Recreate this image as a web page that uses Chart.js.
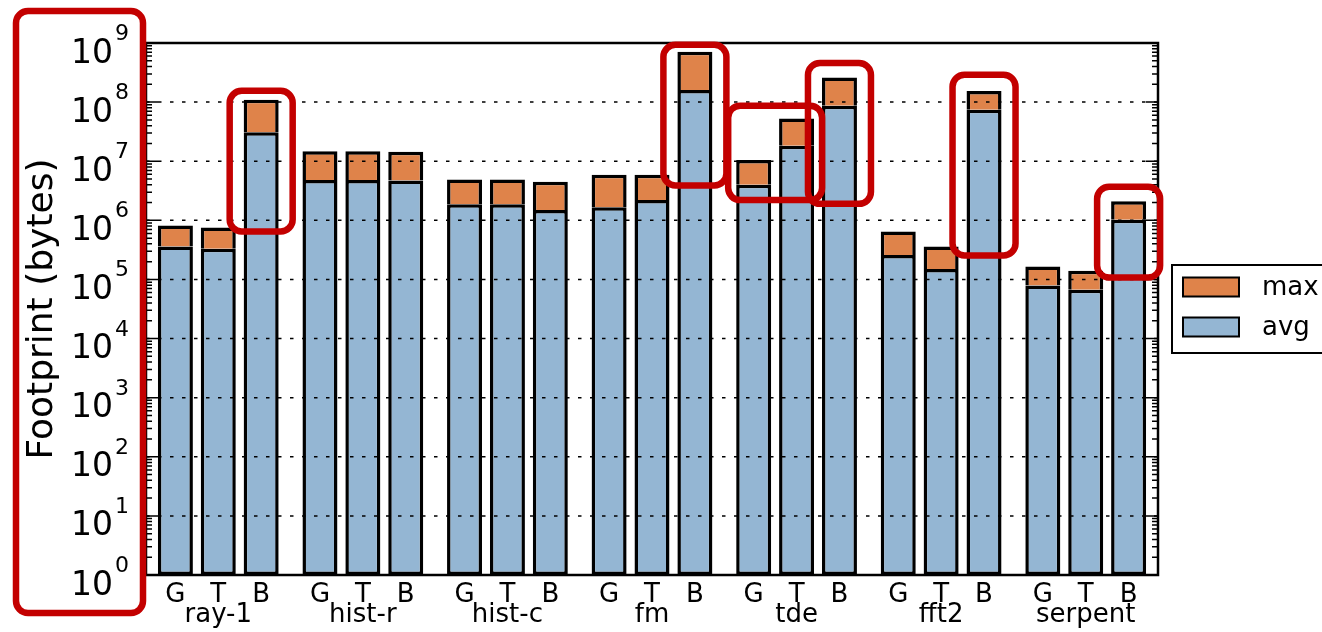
<!DOCTYPE html>
<html>
<head>
<meta charset="utf-8">
<script src="https://cdn.jsdelivr.net/npm/chart.js@4.4.1/dist/chart.umd.min.js"></script>
<style>
html,body{margin:0;padding:0;background:#fff;}
#wrap{width:1322px;height:632px;position:relative;}
</style>
</head>
<body>
<div id="wrap"><canvas id="c"></canvas></div>
<script>
// ---- data ----
const groups = ['ray-1', 'hist-r', 'hist-c', 'fm', 'tde', 'fft2', 'serpent'];
const variants = ['G', 'T', 'B'];
const avgG = [3.6e5, 4.8e6, 1.87e6, 1.66e6, 4.0e6, 2.6e5, 7.9e4];
const maxG = [8.2e5, 1.47e7, 4.9e6, 5.9e6, 1.05e7, 6.5e5, 1.66e5];
const avgT = [3.3e5, 4.8e6, 1.87e6, 2.2e6, 1.83e7, 1.5e5, 6.7e4];
const maxT = [7.6e5, 1.47e7, 4.9e6, 5.9e6, 5.3e7, 3.6e5, 1.4e5];
const avgB = [3.1e7, 4.7e6, 1.5e6, 1.6e8, 8.7e7, 7.4e7, 1.02e6];
const maxB = [1.1e8, 1.44e7, 4.5e6, 7.1e8, 2.6e8, 1.54e8, 2.1e6];
const yTicks = [1e0, 1e1, 1e2, 1e3, 1e4, 1e5, 1e6, 1e7, 1e8, 1e9];
const yExponents = ['0', '1', '2', '3', '4', '5', '6', '7', '8', '9'];
const seriesLabels = ['max', 'avg'];
const yTitle = 'Footprint (bytes)';
// highlighted regions (red boxes): group, first/last variant, value range
const hlGroup = [0, 3, 4, 4, 5, 6];
const hlFrom = ['B', 'B', 'G', 'B', 'B', 'B'];
const hlTo = ['B', 'B', 'T', 'B', 'B', 'B'];
const hlTop = [1.55e8, 9.3e8, 8.7e7, 4.6e8, 2.9e8, 3.7e6];
const hlBottom = [6.5e5, 3.9e6, 2.2e6, 1.9e6, 2.55e5, 1.08e5];

// ---- styles ----
const FONT = "'DejaVu Sans', sans-serif";
const BLUE = '#94b6d3';
const ORANGE = '#df834a';
const RED = '#c30000';
const hlPad = [14, 14, 8, 14, 14, 14];

const avgBy = { G: avgG, T: avgT, B: avgB };
const maxBy = { G: maxG, T: maxT, B: maxB };
const datasets = [];
variants.forEach(v => {
  datasets.push({
    label: seriesLabels[1], stack: v,
    data: avgBy[v].map(a => [yTicks[0], a]),
    backgroundColor: BLUE, borderColor: '#000', borderWidth: 3.5, borderSkipped: false
  });
  datasets.push({
    label: seriesLabels[0], stack: v,
    data: avgBy[v].map((a, i) => [a, maxBy[v][i]]),
    backgroundColor: ORANGE, borderColor: '#000', borderWidth: 3.5, borderSkipped: 'bottom'
  });
});

function barFor(chart, variant, gi) {
  const di = variants.indexOf(variant) * 2;
  return chart.getDatasetMeta(di).data[gi];
}

const decor = {
  id: 'decor',
  afterDatasetsDraw(chart) {
    const { ctx, chartArea: a, scales: { y } } = chart;
    ctx.save();
    // dotted grid lines on top of bars
    ctx.strokeStyle = '#000';
    ctx.lineWidth = 1.5;
    ctx.setLineDash([3.5, 8.5]);
    yTicks.forEach(v => {
      if (v <= y.min || v >= y.max) return;
      const py = y.getPixelForValue(v);
      ctx.beginPath(); ctx.moveTo(a.left, py); ctx.lineTo(a.right, py); ctx.stroke();
    });
    ctx.setLineDash([]);
    // inward major/minor ticks on both sides
    ctx.lineWidth = 1.5;
    for (let k = 0; k < yTicks.length - 1; k++) {
      for (let m = 1; m < 10; m++) {
        const v = m * yTicks[k];
        const py = y.getPixelForValue(v);
        const len = m === 1 ? 12 : 6;
        ctx.beginPath();
        ctx.moveTo(a.left, py); ctx.lineTo(a.left + len, py);
        ctx.moveTo(a.right, py); ctx.lineTo(a.right - len, py);
        ctx.stroke();
      }
    }
    // frame
    ctx.lineWidth = 2.5;
    ctx.strokeRect(a.left, a.top, a.right - a.left, a.bottom - a.top);
    ctx.restore();
  },
  afterDraw(chart) {
    const { ctx, chartArea: a, scales: { y } } = chart;
    ctx.save();
    ctx.fillStyle = '#000';
    // y tick labels 10^n
    yTicks.forEach((v, i) => {
      const py = y.getPixelForValue(v);
      const xe = a.left - 31;
      ctx.font = '33px ' + FONT;
      ctx.textAlign = 'right'; ctx.textBaseline = 'alphabetic';
      ctx.fillText('10', xe - 2, py + 19.5);
      ctx.font = '22px ' + FONT;
      ctx.textAlign = 'left';
      ctx.fillText(yExponents[i], xe, py - 3);
    });
    // G/T/B labels under each bar
    ctx.font = '26px ' + FONT;
    ctx.textAlign = 'center'; ctx.textBaseline = 'alphabetic';
    groups.forEach((g, gi) => {
      variants.forEach(v => {
        const b = barFor(chart, v, gi);
        ctx.fillText(v, b.x, a.bottom + 27);
      });
    });
    // legend
    const mid = (a.top + a.bottom) / 2;
    ctx.strokeStyle = '#000';
    ctx.lineWidth = 2;
    ctx.strokeRect(a.right + 14, mid - 44, 200, 88);
    const items = [
      { label: seriesLabels[0], color: ORANGE, cy: mid - 22 },
      { label: seriesLabels[1], color: BLUE, cy: mid + 18 }
    ];
    items.forEach(it => {
      ctx.fillStyle = it.color;
      ctx.fillRect(a.right + 25, it.cy - 9.5, 56, 19);
      ctx.strokeRect(a.right + 25, it.cy - 9.5, 56, 19);
      ctx.fillStyle = '#000';
      ctx.font = '26px ' + FONT;
      ctx.textAlign = 'left'; ctx.textBaseline = 'middle';
      ctx.fillText(it.label, a.right + 104, it.cy + 1);
    });
    // red highlight boxes
    ctx.strokeStyle = RED;
    ctx.lineWidth = 6.5;
    const rbox = (x1, y1, x2, y2) => {
      ctx.beginPath();
      ctx.roundRect(x1, y1, x2 - x1, y2 - y1, 12);
      ctx.stroke();
    };
    rbox(16, 11, a.left - 3, chart.height - 19);
    hlGroup.forEach((gi, i) => {
      const b1 = barFor(chart, hlFrom[i], gi);
      const b2 = barFor(chart, hlTo[i], gi);
      const x1 = b1.x - b1.width / 2 - hlPad[i];
      const x2 = b2.x + b2.width / 2 + hlPad[i];
      rbox(x1, y.getPixelForValue(hlTop[i]), x2, y.getPixelForValue(hlBottom[i]));
    });
    ctx.restore();
  }
};

new Chart(document.getElementById('c'), {
  type: 'bar',
  data: { labels: groups, datasets },
  options: {
    responsive: true,
    maintainAspectRatio: false,
    animation: false,
    devicePixelRatio: 1,
    layout: { padding: { left: 0, right: 164, top: 43, bottom: 0 } },
    datasets: { bar: { categoryPercentage: 0.89, barPercentage: 0.816 } },
    plugins: { legend: { display: false }, tooltip: { enabled: false } },
    scales: {
      x: {
        type: 'category', stacked: true, offset: true,
        grid: { display: false, drawTicks: false },
        border: { display: false },
        ticks: { font: { family: FONT, size: 26 }, color: '#000', padding: 25, maxRotation: 0, autoSkip: false },
        afterFit: s => { s.height = 57; }
      },
      y: {
        type: 'logarithmic', min: yTicks[0], max: yTicks[yTicks.length - 1], stacked: false,
        grid: { display: false, drawTicks: false },
        border: { display: false },
        ticks: { display: false },
        afterBuildTicks: s => { s.ticks = yTicks.map(v => ({ value: v })); },
        title: { display: true, text: yTitle, color: '#000', font: { family: FONT, size: 36 }, padding: { top: 21, bottom: 0 } },
        afterFit: s => { s.width = 146; }
      }
    }
  },
  plugins: [decor]
});
</script>
</body>
</html>
